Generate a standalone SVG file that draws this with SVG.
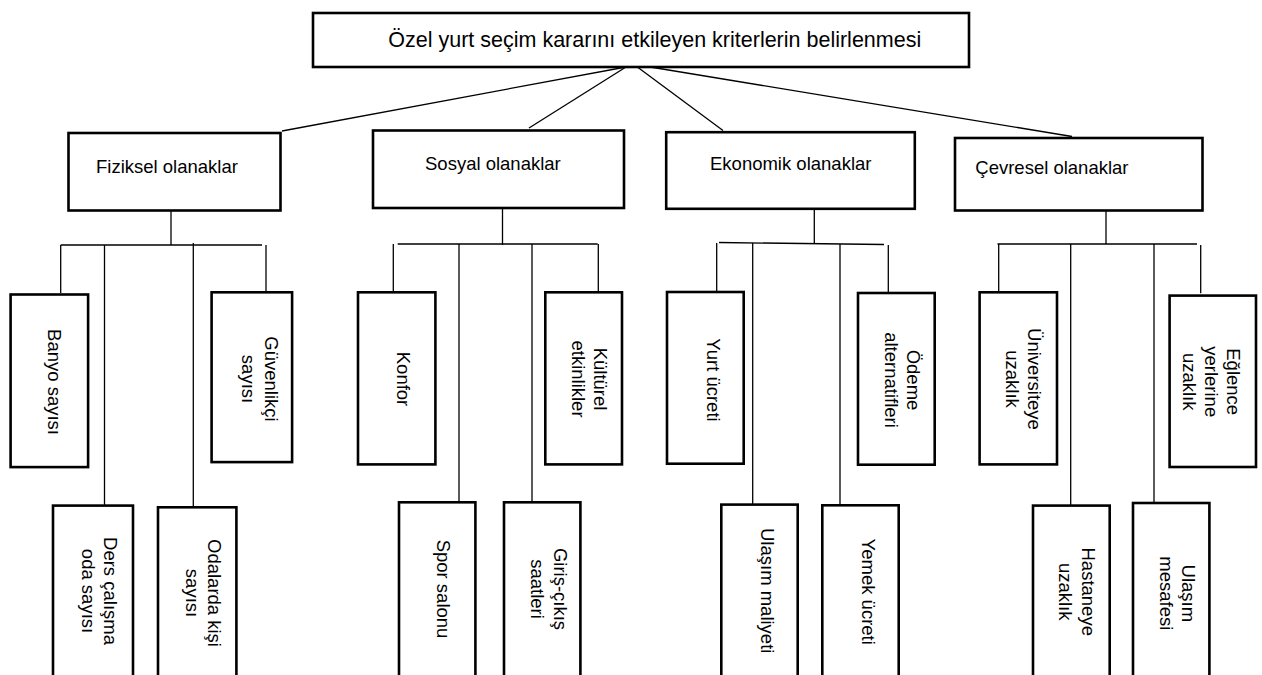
<svg xmlns="http://www.w3.org/2000/svg" width="1262" height="675" viewBox="0 0 1262 675">
<style>
.bx{fill:#fff;stroke:#000;stroke-width:2.6}
.ln{stroke:#000;stroke-width:1.3;fill:none}
text{font-family:"Liberation Sans",Arial,sans-serif;fill:#000}
.t1{font-size:21.5px}
.t2{font-size:18.5px}
.t3{font-size:18.5px;text-anchor:middle}
</style>
<rect width="1262" height="675" fill="#fff"/>
<g id="connectors" class="ln">
<line x1="626" y1="67" x2="282" y2="131"/>
<line x1="626" y1="67" x2="529" y2="128"/>
<line x1="636" y1="66" x2="723" y2="130.5"/>
<line x1="632" y1="64" x2="1072" y2="136.5"/>
<line x1="171" y1="205" x2="171" y2="245"/>
<line x1="60.7" y1="245" x2="262" y2="245"/>
<line x1="60.7" y1="245" x2="60.7" y2="293"/>
<line x1="104.5" y1="245" x2="104.5" y2="523"/>
<line x1="193.3" y1="243" x2="193.3" y2="531"/>
<line x1="266" y1="245" x2="266" y2="293"/>
<line x1="502.5" y1="206" x2="502.5" y2="245"/>
<line x1="397.7" y1="244" x2="597.7" y2="244"/>
<line x1="393.3" y1="244" x2="393.3" y2="293"/>
<line x1="459" y1="244" x2="459" y2="516"/>
<line x1="532" y1="244" x2="532" y2="524"/>
<line x1="598.3" y1="244" x2="598.3" y2="293"/>
<line x1="814.3" y1="203.3" x2="814.3" y2="243.5"/>
<line x1="719" y1="242.5" x2="884" y2="244.5"/>
<line x1="716.7" y1="243" x2="716.7" y2="293"/>
<line x1="752.7" y1="243" x2="752.7" y2="521.7"/>
<line x1="840" y1="244" x2="840" y2="517"/>
<line x1="888.3" y1="245" x2="888.3" y2="293"/>
<line x1="1106" y1="203.3" x2="1106" y2="244"/>
<line x1="997.5" y1="244" x2="1197" y2="244"/>
<line x1="998.7" y1="244" x2="998.7" y2="291.7"/>
<line x1="1070.7" y1="244" x2="1070.7" y2="523.3"/>
<line x1="1154" y1="244" x2="1154" y2="517.3"/>
<line x1="1200.7" y1="245" x2="1200.7" y2="293.3"/>
</g>
<g id="root">
<rect class="bx" x="313" y="13" width="656" height="54"/>
<text class="t1" x="388.3" y="47">Özel yurt seçim kararını etkileyen kriterlerin belirlenmesi</text>
</g>
<g id="fiziksel">
<rect class="bx" x="68.5" y="133" width="212" height="77.5"/>
<text class="t2" x="96" y="172.7">Fiziksel olanaklar</text>
</g>
<g id="sosyal">
<rect class="bx" x="373" y="130.5" width="251" height="77.5"/>
<text class="t2" x="425" y="170">Sosyal olanaklar</text>
</g>
<g id="ekonomik">
<rect class="bx" x="666.2" y="132.2" width="248.6" height="76.6"/>
<text class="t2" x="710" y="170">Ekonomik olanaklar</text>
</g>
<g id="cevresel">
<rect class="bx" x="955" y="138" width="247.5" height="72.5"/>
<text class="t2" x="975.3" y="174">Çevresel olanaklar</text>
</g>
<g id="banyo">
<rect class="bx" x="10.6" y="294.5" width="77.5" height="172.6"/>
<text class="t3" transform="translate(54,382) rotate(90)" y="6">Banyo sayısı</text>
</g>
<g id="guvenlikci">
<rect class="bx" x="211.6" y="292.3" width="80.5" height="169.8"/>
<text class="t3" transform="translate(270.7,379) rotate(90)" y="6">Güvenlikçi<tspan x="0" dy="23">sayısı</tspan></text>
</g>
<g id="ders">
<rect class="bx" x="53" y="505.6" width="80" height="190"/>
<text class="t3" transform="translate(110,591) rotate(90)" y="6">Ders çalışma<tspan x="0" dy="22">oda sayısı</tspan></text>
</g>
<g id="odalarda">
<rect class="bx" x="158" y="507.3" width="78.4" height="190"/>
<text class="t3" transform="translate(214,593) rotate(90)" y="6">Odalarda kişi<tspan x="0" dy="22.5">sayısı</tspan></text>
</g>
<g id="konfor">
<rect class="bx" x="358" y="292.3" width="77.4" height="172.1"/>
<text class="t3" transform="translate(403,379) rotate(90)" y="6">Konfor</text>
</g>
<g id="kulturel">
<rect class="bx" x="545.3" y="292.3" width="76.7" height="172.1"/>
<text class="t3" transform="translate(600,379) rotate(90)" y="6">Kültürel<tspan x="0" dy="22">etkinlikler</tspan></text>
</g>
<g id="spor">
<rect class="bx" x="399" y="502.3" width="76.4" height="190"/>
<text class="t3" transform="translate(443.3,589) rotate(90)" y="6">Spor salonu</text>
</g>
<g id="giris">
<rect class="bx" x="504" y="502.3" width="76.4" height="190"/>
<text class="t3" transform="translate(560,589) rotate(90)" y="6">Giriş-çıkış<tspan x="0" dy="23">saatleri</tspan></text>
</g>
<g id="yurt">
<rect class="bx" x="667" y="292" width="76.7" height="171.7"/>
<text class="t3" transform="translate(712.7,380) rotate(90)" y="6">Yurt ücreti</text>
</g>
<g id="odeme">
<rect class="bx" x="858" y="293" width="76.7" height="171.7"/>
<text class="t3" transform="translate(913.3,380) rotate(90)" y="6">Ödeme<tspan x="0" dy="22.6">alternatifleri</tspan></text>
</g>
<g id="ulasim-maliyeti">
<rect class="bx" x="721.3" y="504.6" width="76.4" height="190"/>
<text class="t3" transform="translate(766.7,590.7) rotate(90)" y="6">Ulaşım maliyeti</text>
</g>
<g id="yemek">
<rect class="bx" x="822.3" y="505.3" width="76.4" height="190"/>
<text class="t3" transform="translate(868.3,591.7) rotate(90)" y="6">Yemek ücreti</text>
</g>
<g id="universiteye">
<rect class="bx" x="979.6" y="292.3" width="77.4" height="172.1"/>
<text class="t3" transform="translate(1034,379) rotate(90)" y="6">Üniversiteye<tspan x="0" dy="22.3">uzaklık</tspan></text>
</g>
<g id="eglence">
<rect class="bx" x="1169.6" y="295.6" width="86.4" height="171.4"/>
<text class="t3" transform="translate(1233.3,381.7) rotate(90)" y="6">Eğlence<tspan x="0" dy="22">yerlerine</tspan><tspan x="0" dy="22">uzaklık</tspan></text>
</g>
<g id="hastaneye">
<rect class="bx" x="1033" y="505.6" width="76.7" height="190"/>
<text class="t3" transform="translate(1087.7,591.7) rotate(90)" y="6">Hastaneye<tspan x="0" dy="22.7">uzaklık</tspan></text>
</g>
<g id="ulasim-mesafesi">
<rect class="bx" x="1133" y="503" width="76.4" height="190"/>
<text class="t3" transform="translate(1188.3,593.3) rotate(90)" y="6">Ulaşım<tspan x="0" dy="22.3">mesafesi</tspan></text>
</g>
</svg>
